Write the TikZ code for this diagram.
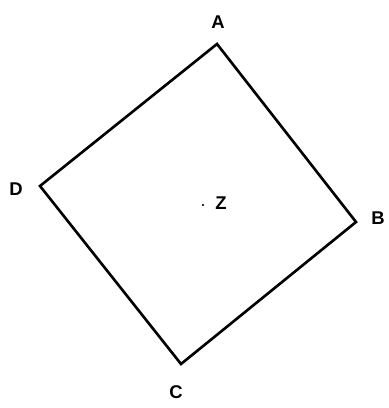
\documentclass[tikz,border=0pt]{standalone}
\usepackage{fontspec}
\setmainfont{Liberation Sans}
\begin{document}
\begin{tikzpicture}[x=0.02cm,y=-0.02cm,
  lbl/.style={font=\fontsize{10.5}{12}\selectfont\bfseries,inner sep=0pt}]
\useasboundingbox (0,0) rectangle (388,408);
\coordinate (A) at (217,44);
\coordinate (B) at (356,222);
\coordinate (C) at (181,364);
\coordinate (D) at (40,186);
\draw[line width=1.5pt,line join=miter] (A)--(B)--(C)--(D)--cycle;
\draw[fill] (203,205) circle[radius=.6];
\node[lbl] (la) at (218,22) {A};
\node[lbl] (lb) at (378,218) {B};
\node[lbl] (lc) at (176,392) {C};
\node[lbl] (ld) at (16,189) {D};
\node[lbl] (lz) at (221,203) {Z};
\end{tikzpicture}
\end{document}
